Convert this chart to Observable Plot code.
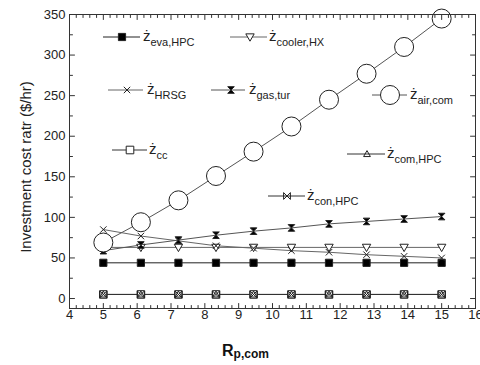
<!DOCTYPE html>
<html><head><meta charset="utf-8">
<script src="https://cdn.jsdelivr.net/npm/d3@7"></script>
<script src="https://cdn.jsdelivr.net/npm/@observablehq/plot@0.6"></script>
<style>
body{margin:0;background:#fff;font-family:"Liberation Sans",Arial,sans-serif;}
#wrap{position:relative;width:480px;height:365px;overflow:hidden;}
#wrap svg.ov{position:absolute;left:0;top:0;}
</style></head><body><div id="wrap"></div>
<script>
// ---- data ----
const xValues = [5, 6.11, 7.22, 8.33, 9.44, 10.56, 11.67, 12.78, 13.89, 15];
const zEvaHPC  = [44, 44, 44, 44, 44, 44, 44, 44, 44, 44];
const zCoolerHX = [63, 63, 63, 63, 63, 63, 63, 63, 63, 63];
const zHRSG    = [85, 77, 71, 65, 62, 59, 57, 54, 52, 50];
const zGasTur  = [59, 66, 72, 78, 83, 87, 92, 95, 98, 101];
const zAirCom  = [69, 94, 121, 151, 181, 212, 245, 277, 310, 345];
const zCC      = [5, 5, 5, 5, 5, 5, 5, 5, 5, 5];
const zComHPC  = [5, 5, 5, 5, 5, 5, 5, 5, 5, 5];
const zConHPC  = [5, 5, 5, 5, 5, 5, 5, 5, 5, 5];
const xTicks = [4, 5, 6, 7, 8, 9, 10, 11, 12, 13, 14, 15, 16];
const yTicks = [0, 50, 100, 150, 200, 250, 300, 350];
const xMinorTicks = d3.range(4, 16.001, 0.2).map(v => +v.toFixed(1)).filter(v => !xTicks.includes(v));
const yMinorTicks = [25, 75, 125, 175, 225, 275, 325];

// ---- symbols ----
const hw = s => Math.sqrt(s / Math.PI);
const symSquare = {draw(c, s){const r = hw(s); c.rect(-r, -r, 2*r, 2*r);}};
const symTriDown = {draw(c, s){const r = hw(s); c.moveTo(-r, -r*0.75); c.lineTo(r, -r*0.75); c.lineTo(0, r); c.closePath();}};
const symTriUp = {draw(c, s){const r = hw(s); c.moveTo(-r, r*0.75); c.lineTo(r, r*0.75); c.lineTo(0, -r); c.closePath();}};
const symCross = {draw(c, s){const r = hw(s); c.moveTo(-r, -r); c.lineTo(r, r); c.moveTo(r, -r); c.lineTo(-r, r);}};
const symHourglass = {draw(c, s){const r = hw(s); c.moveTo(-r, -r); c.lineTo(r, -r); c.lineTo(-r, r); c.lineTo(r, r); c.closePath();}};
const symBowtie = {draw(c, s){const r = hw(s); c.moveTo(-r, -r); c.lineTo(r, r); c.lineTo(r, -r); c.lineTo(-r, r); c.closePath();}};
const symCircle = {draw(c, s){const r = hw(s); c.moveTo(r, 0); c.arc(0, 0, r, 0, 2*Math.PI);}};

const series = [
  {name: "eva,HPC", values: zEvaHPC, symbol: symSquare, r: 3.6, fill: "#000", line: "#222"},
  {name: "cooler,HX", values: zCoolerHX, symbol: symTriDown, r: 4.2, fill: "#fff", line: "#666"},
  {name: "HRSG", values: zHRSG, symbol: symCross, r: 3.2, fill: "none", line: "#666"},
  {name: "gas,tur", values: zGasTur, symbol: symHourglass, r: 3.3, fill: "#000", line: "#555"},
  {name: "air,com", values: zAirCom, symbol: symCircle, r: 9.5, fill: "#fff", line: "#555"},
  {name: "cc", values: zCC, symbol: symSquare, r: 3.8, fill: "#fff", line: "#333"},
  {name: "com,HPC", values: zComHPC, symbol: symTriUp, r: 3.4, fill: "none", line: "#333"},
  {name: "con,HPC", values: zConHPC, symbol: symBowtie, r: 3.4, fill: "none", line: "#333"}
];

const tickShape = {draw(c, l){c.moveTo(0, 0); c.lineTo(0, -l);}};
const ink = "#333";
const marks = [];
for (const s of series) {
  const data = xValues.map((x, i) => ({x, y: s.values[i]}));
  marks.push(Plot.line(data, {x: "x", y: "y", stroke: s.line, strokeWidth: 1}));
}
for (const s of series) {
  const data = xValues.map((x, i) => ({x, y: s.values[i]}));
  marks.push(Plot.dot(data, {x: "x", y: "y", symbol: s.symbol, r: s.r, fill: s.fill, stroke: "#222", strokeWidth: 1}));
}
const tk = (data, opts) => Plot.vector(data, {...opts, shape: tickShape, anchor: "start", stroke: ink, strokeWidth: 1});
marks.push(
  tk(xTicks, {x: d => d, frameAnchor: "bottom", rotate: 0, length: 5}),
  tk(xMinorTicks, {x: d => d, frameAnchor: "bottom", rotate: 0, length: 3}),
  tk(xTicks, {x: d => d, frameAnchor: "top", rotate: 180, length: 5}),
  tk(xMinorTicks, {x: d => d, frameAnchor: "top", rotate: 180, length: 3}),
  tk(yTicks, {y: d => d, frameAnchor: "left", rotate: 90, length: 5}),
  tk(yMinorTicks, {y: d => d, frameAnchor: "left", rotate: 90, length: 3}),
  tk(yTicks, {y: d => d, frameAnchor: "right", rotate: -90, length: 5}),
  tk(yMinorTicks, {y: d => d, frameAnchor: "right", rotate: -90, length: 3}),
  Plot.axisX(xTicks, {tickSize: 0, tickPadding: 1, label: null, tickFormat: d => String(d), fill: "#222"}),
  Plot.axisY(yTicks, {tickSize: 0, tickPadding: 4, label: null, tickFormat: d => String(d), fill: "#222"}),
  Plot.frame({stroke: ink, strokeWidth: 1})
);

const chart = Plot.plot({
  width: 480, height: 365,
  marginLeft: 69, marginRight: 5, marginTop: 14, marginBottom: 57,
  x: {domain: [4, 16]},
  y: {domain: [-12.3, 350]},
  style: {fontSize: "13px", fontFamily: "'Liberation Sans', Arial, sans-serif", background: "#fff", color: "#222"},
  marks
});
const wrap = document.getElementById("wrap");
wrap.appendChild(chart);

// ---- overlay: legend + axis titles ----
const legendItems = [
  {i: 0, x1: 103, x2: 140, mx: 122, y: 37, tx: 143},
  {i: 1, x1: 230, x2: 267, mx: 250, y: 37, tx: 269},
  {i: 2, x1: 108, x2: 143, mx: 127, y: 90, tx: 147},
  {i: 3, x1: 211, x2: 245, mx: 231, y: 90, tx: 249},
  {i: 4, x1: 372, x2: 407, mx: 390, y: 95, tx: 410},
  {i: 5, x1: 112, x2: 147, mx: 130, y: 150, tx: 149},
  {i: 6, x1: 347, x2: 385, mx: 367, y: 154, tx: 387},
  {i: 7, x1: 268, x2: 305, mx: 287, y: 196, tx: 307}
];
const ov = d3.select(wrap).append("svg").attr("class", "ov").attr("width", 480).attr("height", 365)
  .style("font-family", "'Liberation Sans', Arial, sans-serif");
for (const L of legendItems) {
  const s = series[L.i];
  const g = ov.append("g");
  g.append("line").attr("x1", L.x1).attr("x2", L.x2).attr("y1", L.y).attr("y2", L.y).attr("stroke", s.line);
  const p = d3.path(); s.symbol.draw(p, Math.PI * s.r * s.r);
  g.append("path").attr("d", p.toString()).attr("transform", `translate(${L.mx},${L.y})`)
    .attr("fill", s.fill).attr("stroke", "#222");
  const t = g.append("text").attr("x", L.tx).attr("y", L.y + 4).attr("fill", "#222").attr("font-size", 15);
  t.append("tspan").text("ż");
  t.append("tspan").attr("font-size", 11).attr("dy", 5).text(s.name);
}
ov.append("text").attr("transform", "translate(31,167) rotate(-90)").attr("text-anchor", "middle")
  .attr("font-size", 15).attr("fill", "#222").text("Investment cost ratr ($/hr)");
const xl = ov.append("text").attr("x", 222).attr("y", 356).attr("fill", "#111");
xl.append("tspan").attr("font-size", 16).attr("font-weight", "bold").text("R");
xl.append("tspan").attr("font-size", 12).attr("font-weight", "bold").attr("dy", 2).text("p,com");
</script></body></html>
